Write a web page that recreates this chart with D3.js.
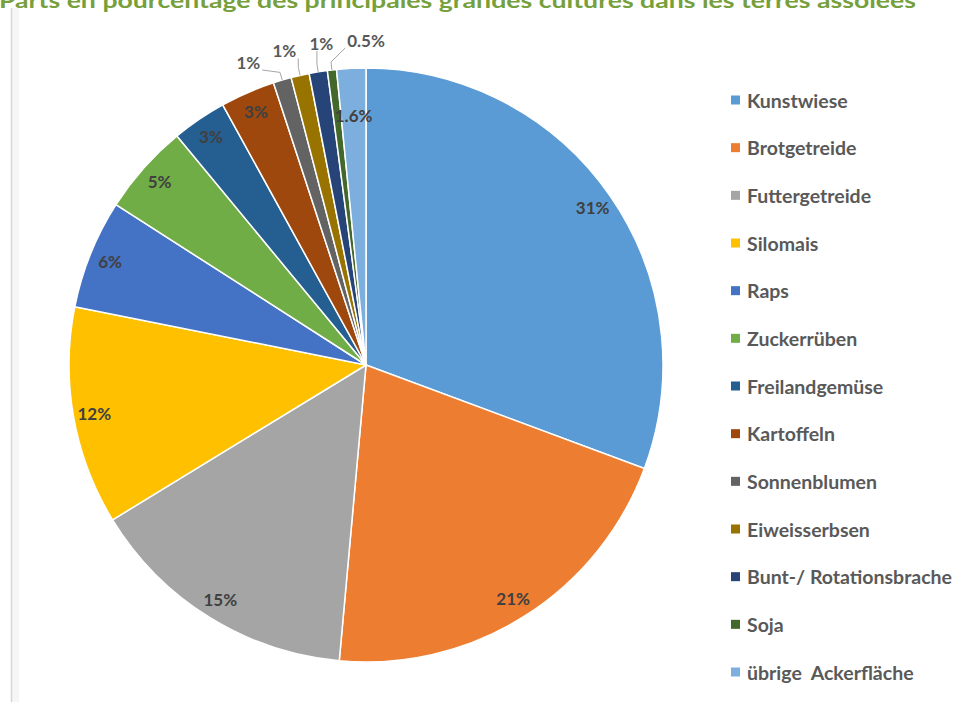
<!DOCTYPE html>
<html>
<head>
<meta charset="utf-8">
<script src="https://cdn.jsdelivr.net/npm/d3@7"></script>
<style>
  html, body { margin: 0; padding: 0; background: #ffffff; }
  svg { display: block; }
</style>
</head>
<body>
<svg id="chart" width="960" height="702"></svg>
<script>
// Crop shares of arable land (percent)
const categories = [
  "Kunstwiese", "Brotgetreide", "Futtergetreide", "Silomais", "Raps",
  "Zuckerrüben", "Freilandgemüse", "Kartoffeln", "Sonnenblumen",
  "Eiweisserbsen", "Bunt-/ Rotationsbrache", "Soja", "übrige  Ackerfläche"
];
const shares = [31, 21, 15, 12, 6, 5, 3, 3, 1, 1, 1, 0.5, 1.6];
const shareLabels = ["31%", "21%", "15%", "12%", "6%", "5%", "3%", "3%", "1%", "1%", "1%", "0.5%", "1.6%"];
const colors = [
  "#5B9BD5", "#ED7D31", "#A5A5A5", "#FFC000", "#4472C4", "#70AD47",
  "#255E91", "#9E480E", "#636363", "#997300", "#264478", "#43682B", "#7CAFDD"
];
const titleText = "Parts en pourcentage des principales grandes cultures dans les terres assolées";

const svg = d3.select("#chart");
const W = 960, H = 702;
const cx = 366, cy = 365, R = 297;
const FONT = "Lato, 'Open Sans', 'DejaVu Sans', sans-serif";

// Title (sits partly above the top edge)
svg.append("text")
  .attr("x", -1).attr("y", 8)
  .attr("textLength", 917).attr("lengthAdjust", "spacingAndGlyphs")
  .style("font-family", FONT).style("font-weight", 700).style("font-size", "21px")
  .style("fill", "#76A03B")
  .text(titleText);

// Frame edge on the left
svg.append("rect").attr("x", 12).attr("y", 8).attr("width", 7).attr("height", H - 8)
  .style("fill", "#f6f6f6");
svg.append("line").attr("x1", 11.5).attr("x2", 11.5).attr("y1", 8).attr("y2", H)
  .style("stroke", "#d6d6d6").style("stroke-width", 1.5);

const data = categories.map((c, i) => ({ name: c, value: shares[i], label: shareLabels[i], color: colors[i] }));

const pie = d3.pie().sort(null).value(d => d.value).startAngle(0).endAngle(2 * Math.PI);
const arcs = pie(data);
const arc = d3.arc().innerRadius(0).outerRadius(R);

const g = svg.append("g").attr("transform", `translate(${cx},${cy})`);

g.selectAll("path.slice")
  .data(arcs)
  .join("path")
  .attr("class", "slice")
  .attr("d", arc)
  .style("fill", d => d.data.color)
  .style("stroke", "#ffffff")
  .style("stroke-width", 1.5)
  .style("stroke-linejoin", "round");

const midAngle = d => (d.startAngle + d.endAngle) / 2;
const polar = (a, r) => [r * Math.sin(a), -r * Math.cos(a)];

const labelFont = 17;

// Inside labels near the outer rim; narrow slices push the label further in
const insideArcs = arcs.filter(d => !(d.data.value <= 1));
g.selectAll("text.inside")
  .data(insideArcs)
  .join("text")
  .attr("class", "inside")
  .attr("x", d => polar(midAngle(d), d.data.value < 2 ? 250 : 276)[0])
  .attr("y", d => polar(midAngle(d), d.data.value < 2 ? 250 : 276)[1])
  .attr("text-anchor", "middle")
  .attr("dominant-baseline", "central")
  .style("font-family", FONT).style("font-weight", 700).style("font-size", labelFont + "px")
  .style("fill", "#404040")
  .text(d => d.data.label);

// Outside labels for the smallest slices, spread counter-clockwise from the top
const outsideArcs = arcs.filter(d => d.data.value <= 1).reverse();
const labelR = 325, gap = 14;
const measure = svg.append("text")
  .style("font-family", FONT).style("font-weight", 700).style("font-size", labelFont + "px");
let prevAngle = null, prevHalf = 0;
const outside = outsideArcs.map(d => {
  measure.text(d.data.label);
  const w = measure.node().getComputedTextLength();
  let a;
  if (prevAngle === null) a = 0;
  else a = prevAngle - (prevHalf + w / 2 + gap) / labelR;
  prevAngle = a; prevHalf = w / 2;
  const [lx, ly] = polar(a, labelR);
  return { d, w, lx, ly };
});
measure.remove();

outside.forEach(o => {
  const m = midAngle(o.d);
  const edge = polar(m, R);
  const elbow = polar(m, R + 8);
  const x0 = o.lx - o.w / 2 - 2, x1 = o.lx + o.w / 2 + 2;
  const y0 = o.ly - 8, y1 = o.ly + 8;
  const start = [Math.max(x0, Math.min(x1, elbow[0])), Math.max(y0, Math.min(y1, elbow[1]))];
  g.append("polyline")
    .attr("points", [start, elbow, edge].map(p => p.join(",")).join(" "))
    .style("fill", "none").style("stroke", "#a6a6a6").style("stroke-width", 1);
  g.append("text")
    .attr("x", o.lx).attr("y", o.ly)
    .attr("text-anchor", "middle").attr("dominant-baseline", "central")
    .style("font-family", FONT).style("font-weight", 700).style("font-size", labelFont + "px")
    .style("fill", "#595959")
    .text(o.d.data.label);
});

// Legend
const legendY = d3.scalePoint().domain(categories).range([100, 672]);
const legend = svg.append("g");
const items = legend.selectAll("g.item").data(data).join("g")
  .attr("class", "item")
  .attr("transform", d => `translate(731,${legendY(d.name)})`);
items.append("rect")
  .attr("x", 0).attr("y", -4.5).attr("width", 9).attr("height", 9)
  .style("fill", d => d.color);
items.append("text")
  .attr("x", 16).attr("y", 0)
  .attr("dominant-baseline", "central")
  .attr("xml:space", "preserve")
  .style("white-space", "pre")
  .style("font-family", FONT).style("font-weight", 700).style("font-size", "19.5px")
  .style("fill", "#595959")
  .text(d => d.name);
</script>
</body>
</html>
